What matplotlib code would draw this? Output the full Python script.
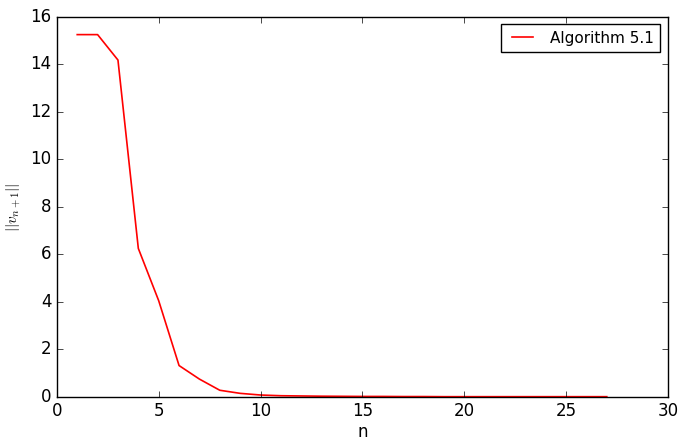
import matplotlib
matplotlib.use("Agg")
import matplotlib.pyplot as plt

# iteration index and norm of v_{n+1}
n_vals = list(range(1, 28))
norms = [15.25, 15.25, 14.18, 6.25, 4.05, 1.32, 0.75, 0.28, 0.15, 0.08,
         0.05, 0.04, 0.03, 0.025, 0.02, 0.02, 0.015, 0.015, 0.01, 0.01,
         0.01, 0.01, 0.01, 0.01, 0.01, 0.01, 0.01]

plt.style.use('classic')
fig = plt.figure(figsize=(6.85, 4.42), dpi=100)
ax = fig.add_axes([0.083, 0.102, 0.892, 0.86])

ax.plot(n_vals, norms, color='red', lw=1.2, label='Algorithm 5.1')
ax.set_xlim(0, 30)
ax.set_ylim(0, 16)
ax.set_xlabel('n', fontsize=12, labelpad=2)
ax.set_ylabel(r'$||v_{n+1}||$', fontsize=11)
ax.legend(loc='upper right', fontsize=11)

fig.savefig('out.png', dpi=100)
